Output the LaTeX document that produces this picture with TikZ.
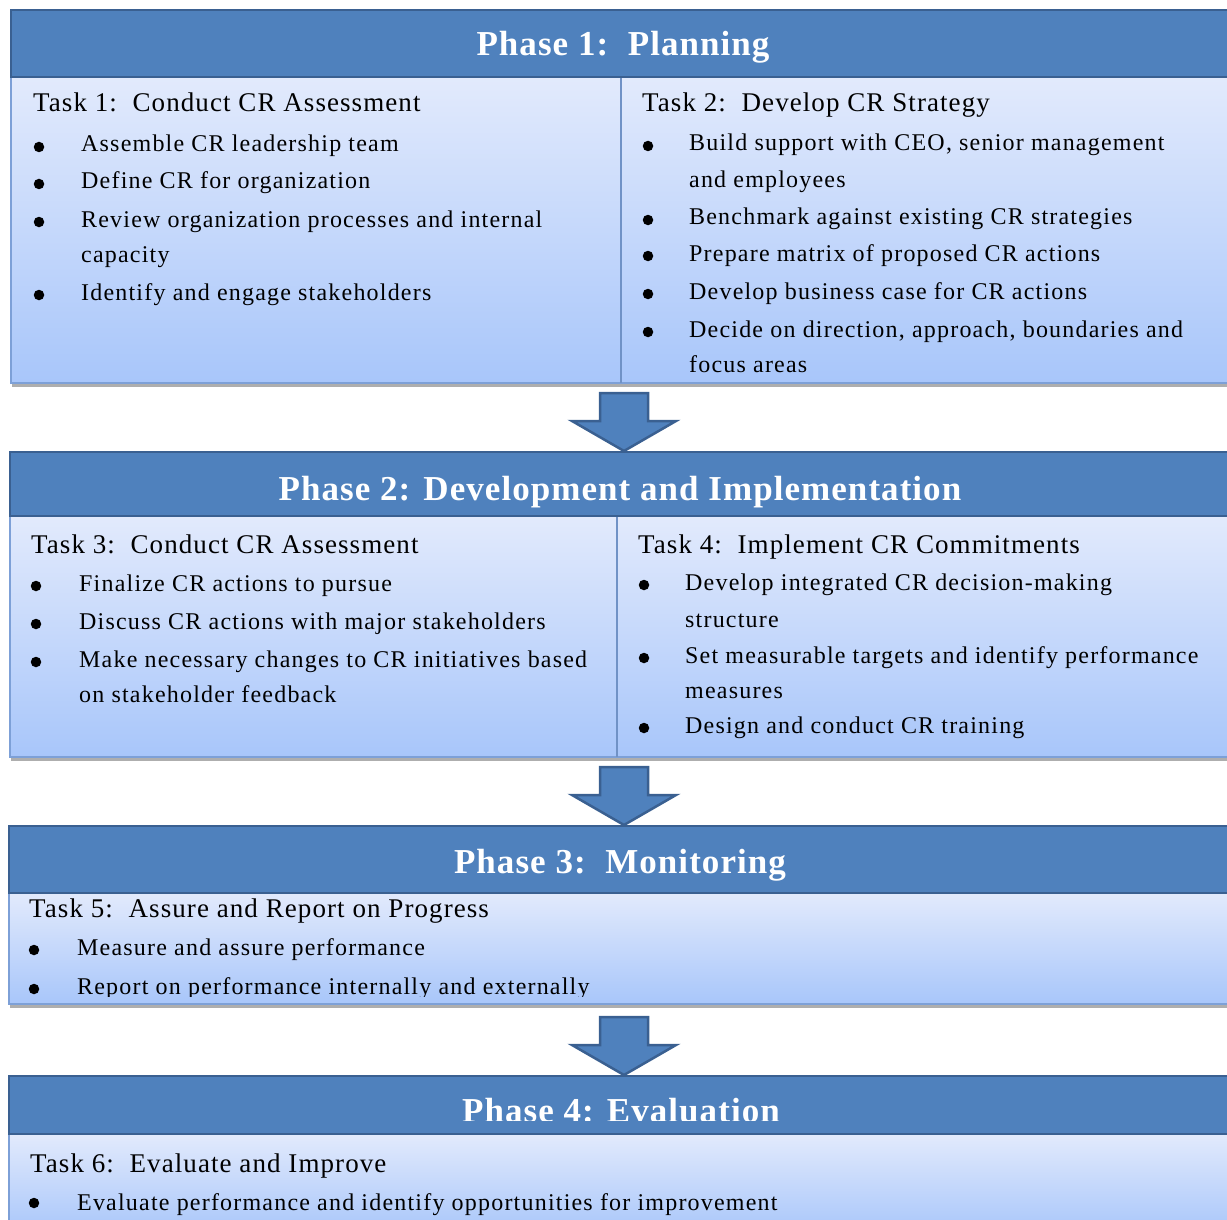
\documentclass[tikz,border=0pt]{standalone}
\usepackage{fontspec}
\setmainfont{Liberation Serif}
\newfontfamily\itemfont[LetterSpace=5]{Liberation Serif}
\newfontfamily\taskfont[LetterSpace=4]{Liberation Serif}
\newfontfamily\headfont[LetterSpace=3]{Liberation Serif}
\usetikzlibrary{shadows}
\definecolor{hdrblue}{RGB}{79,129,189}
\definecolor{hdrline}{RGB}{58,96,145}
\definecolor{bodytop}{RGB}{226,234,252}
\definecolor{bodybot}{RGB}{168,198,250}
\definecolor{bodyline}{RGB}{125,160,215}
\definecolor{divline}{RGB}{112,146,198}
\begin{document}
\begin{tikzpicture}[x=1pt,y=-1pt,
 hdrbox/.style={rectangle, fill=hdrblue, draw=hdrline, line width=1.5pt, inner sep=0pt, outer sep=0pt, anchor=north west},
 bodybox/.style={rectangle, top color=bodytop, bottom color=bodybot, draw=bodyline, line width=1.5pt, inner sep=0pt, outer sep=0pt, anchor=north west, drop shadow={shadow xshift=1pt, shadow yshift=-4pt, opacity=0.45, fill=black!70}},
 hdrtext/.style={text=white, font=\headfont\bfseries\fontsize{35}{40}\selectfont, anchor=base, inner sep=0pt},
 tasktext/.style={font=\taskfont\fontsize{27}{30}\selectfont, anchor=base west, inner sep=0pt},
 itemtext/.style={font=\itemfont\fontsize{24}{28}\selectfont, anchor=base west, inner sep=0pt},
 bul/.style={circle, fill=black, inner sep=0pt, minimum size=10.5pt},
 divider/.style={draw=divline, line width=1.5pt},
 blockarrow/.style={fill=hdrblue, draw=hdrline, line width=2.5pt, line join=miter},
 downarrow/.pic={\draw[blockarrow] (-24,0) -- (24,0) -- (24,28) -- (52,28) -- (0,58) -- (-52,28) -- (-24,28) -- cycle;}
]
\useasboundingbox (0,0) rectangle (1227,1220);
\clip (0,0) rectangle (1227,1220);

% ---------- Phase 1 ----------
\node[bodybox, minimum width=1229pt, minimum height=306pt] (b1) at (11,77) {};
\draw[divider] (621,77) -- (621,383);
\node[hdrbox, minimum width=1229pt, minimum height=67pt] (h1) at (11,10) {};
\node[hdrtext] (t1) at (623,56) {Phase 1:\ \ Planning};

\node[tasktext] (k1) at (33,112) {Task 1:\ \ Conduct CR Assessment};
\node[bul] (d11) at (39,147) {};
\node[itemtext] (i11) at (81,152) {Assemble CR leadership team};
\node[bul] (d12) at (39,184) {};
\node[itemtext] (i12) at (81,189) {Define CR for organization};
\node[bul] (d13) at (39,222) {};
\node[itemtext] (i13) at (81,227) {Review organization processes and internal};
\node[itemtext] (i13b) at (81,262) {capacity};
\node[bul] (d14) at (39,295) {};
\node[itemtext] (i14) at (81,300) {Identify and engage stakeholders};

\node[tasktext] (k2) at (642,112) {Task 2:\ \ Develop CR Strategy};
\node[bul] (d21) at (648,146) {};
\node[itemtext] (i21) at (689,151) {Build support with CEO, senior management};
\node[itemtext] (i21b) at (689,187) {and employees};
\node[bul] (d22) at (648,220) {};
\node[itemtext] (i22) at (689,225) {Benchmark against existing CR strategies};
\node[bul] (d23) at (648,256) {};
\node[itemtext] (i23) at (689,261) {Prepare matrix of proposed CR actions};
\node[bul] (d24) at (648,294) {};
\node[itemtext] (i24) at (689,299) {Develop business case for CR actions};
\node[bul] (d25) at (648,332) {};
\node[itemtext] (i25) at (689,337) {Decide on direction, approach, boundaries and};
\node[itemtext] (i25b) at (689,372) {focus areas};

\pic at (624,393) {downarrow};

% ---------- Phase 2 ----------
\node[bodybox, minimum width=1230pt, minimum height=241pt] (b2) at (10,516) {};
\draw[divider] (617,516) -- (617,757);
\node[hdrbox, minimum width=1230pt, minimum height=64pt] (h2) at (10,452) {};
\node[hdrtext] (t2) at (620,500) {Phase 2: Development and Implementation};

\node[tasktext] (k3) at (31,553) {Task 3:\ \ Conduct CR Assessment};
\node[bul] (d31) at (36,586) {};
\node[itemtext] (i31) at (79,591) {Finalize CR actions to pursue};
\node[bul] (d32) at (36,624) {};
\node[itemtext] (i32) at (79,629) {Discuss CR actions with major stakeholders};
\node[bul] (d33) at (36,662) {};
\node[itemtext] (i33) at (79,667) {Make necessary changes to CR initiatives based};
\node[itemtext] (i33b) at (79,702) {on stakeholder feedback};

\node[tasktext] (k4) at (638,553) {Task 4:\ \ Implement CR Commitments};
\node[bul] (d41) at (644,585) {};
\node[itemtext] (i41) at (685,590) {Develop integrated CR decision-making};
\node[itemtext] (i41b) at (685,627) {structure};
\node[bul] (d42) at (644,658) {};
\node[itemtext] (i42) at (685,663) {Set measurable targets and identify performance};
\node[itemtext] (i42b) at (685,698) {measures};
\node[bul] (d43) at (644,728) {};
\node[itemtext] (i43) at (685,733) {Design and conduct CR training};

\pic at (624,767) {downarrow};

% ---------- Phase 3 ----------
\node[bodybox, minimum width=1231pt, minimum height=111pt] (b3) at (9,893) {};
\node[hdrbox, minimum width=1231pt, minimum height=67pt] (h3) at (9,826) {};
\node[hdrtext] (t3) at (620,873) {Phase 3:\ \ Monitoring};
\begin{scope}
\clip (9,893) rectangle (1227,996);
\node[tasktext] (k5) at (29,917) {Task 5:\ \ Assure and Report on Progress};
\node[bul] (d51) at (34,950) {};
\node[itemtext] (i51) at (77,955) {Measure and assure performance};
\node[bul] (d52) at (34,989) {};
\node[itemtext] (i52) at (77,994) {Report on performance internally and externally};
\end{scope}

\pic at (624,1017) {downarrow};

% ---------- Phase 4 ----------
\node[bodybox, minimum width=1231pt, minimum height=100pt] (b4) at (9,1134) {};
\node[hdrbox, minimum width=1231pt, minimum height=58pt] (h4) at (9,1076) {};
\begin{scope}
\clip (9,1076) rectangle (1227,1120);
\node[hdrtext] (t4) at (621,1122) {Phase 4: Evaluation};
\end{scope}
\node[tasktext] (k6) at (30,1172) {Task 6:\ \ Evaluate and Improve};
\node[bul] (d61) at (34,1203) {};
\node[itemtext] (i61) at (77,1210) {Evaluate performance and identify opportunities for improvement};
\end{tikzpicture}
\end{document}
